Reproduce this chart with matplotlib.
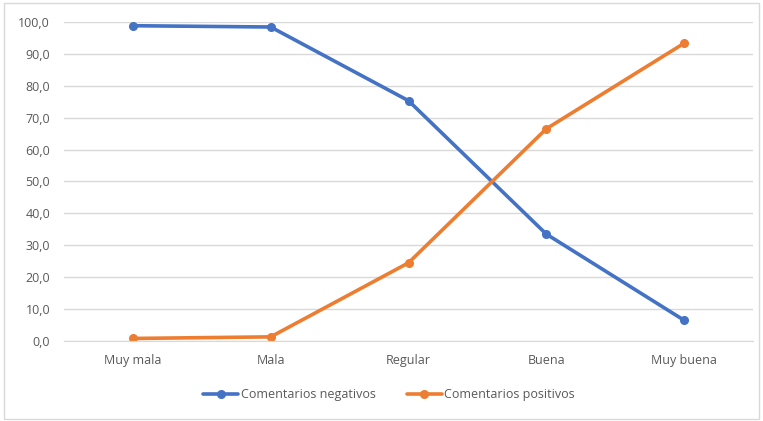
import matplotlib.pyplot as plt
from matplotlib.patches import Rectangle

# Data
categorias = ["Muy mala", "Mala", "Regular", "Buena", "Muy buena"]
negativos = [98.8, 98.4, 75.3, 33.5, 6.5]
positivos = [0.8, 1.3, 24.5, 66.5, 93.3]
yticks = [0, 10, 20, 30, 40, 50, 60, 70, 80, 90, 100]

plt.rcParams["font.family"] = ["Open Sans", "DejaVu Sans"]
text_color = "#595959"

fig = plt.figure(figsize=(7.63, 4.21), dpi=100)
ax = fig.add_axes([0.0839, 0.19, 0.903, 0.758])

x = range(len(categorias))
ax.plot(x, negativos, color="#4472C4", linewidth=2.6, marker="o", markersize=5.5,
        label="Comentarios negativos", solid_capstyle="round")
ax.plot(x, positivos, color="#ED7D31", linewidth=2.6, marker="o", markersize=5.5,
        label="Comentarios positivos", solid_capstyle="round")

ax.set_xlim(-0.5, len(categorias) - 0.5)
ax.set_ylim(0, 100)
ax.set_yticks(yticks)
ax.set_yticklabels([f"{v:.1f}".replace(".", ",") for v in yticks])
ax.set_xticks(list(x))
ax.set_xticklabels(categorias)
ax.tick_params(axis="both", length=0, colors=text_color, labelsize=9)
ax.tick_params(axis="x", pad=9)
ax.tick_params(axis="y", pad=10)
ax.grid(axis="y", color="#D9D9D9", linewidth=1)
ax.set_axisbelow(True)
for s in ["top", "right", "left"]:
    ax.spines[s].set_visible(False)
ax.spines["bottom"].set_color("#D9D9D9")
ax.set_clip_on(False)

leg = fig.legend(loc="center", bbox_to_anchor=(0.51, 0.063), ncol=2, frameon=False,
                 fontsize=9, handlelength=2.8, columnspacing=2.5, handletextpad=0.2)
for t in leg.get_texts():
    t.set_color(text_color)

fig.patches.append(Rectangle((0.005, 0.005), 0.99, 0.988, transform=fig.transFigure,
                             fill=False, edgecolor="#D9D9D9", linewidth=1))

fig.savefig("out.png", dpi=100)
